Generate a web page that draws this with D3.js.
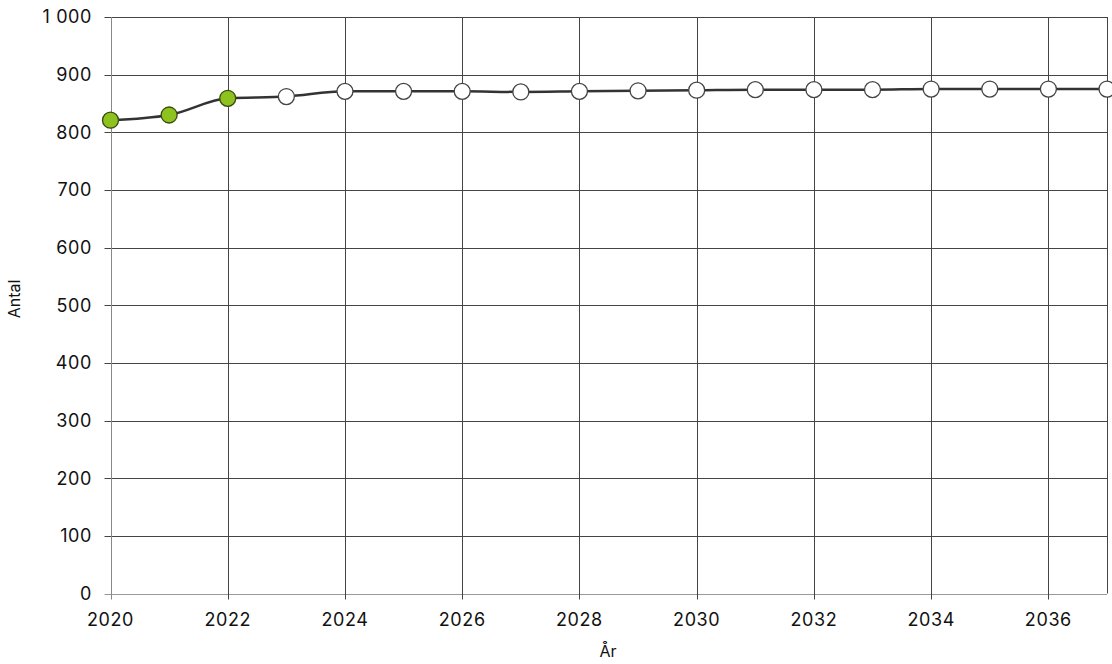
<!DOCTYPE html>
<html><head><meta charset="utf-8">
<script src="https://cdn.jsdelivr.net/npm/d3@7"></script>
<style>body{margin:0;background:#fff}svg{display:block}text{font-family:Inter,"Liberation Sans",Arial,sans-serif;fill:#111}</style>
</head><body><svg id="c" width="1112" height="664"></svg>
<script>
const years = [2020,2021,2022,2023,2024,2025,2026,2027,2028,2029,2030,2031,2032,2033,2034,2035,2036,2037];
const values = [821,830,859,862,871,871,871,870,871,872,873,874,874,874,875,875,875,875];
const observedCount = 3; // first three points are observed (green)
const yTicks = [0,100,200,300,400,500,600,700,800,900,1000];
const xTicks = [2020,2022,2024,2026,2028,2030,2032,2034,2036];
const xTitle = "År", yTitle = "Antal";

const svg = d3.select("#c");
const m = {l:110.5, r:1107, t:17, b:593.5};
const x = d3.scaleLinear().domain([2020,2037]).range([m.l,m.r]);
const y = d3.scaleLinear().domain([0,1000]).range([m.b,m.t]);
const fmt = v => v>=1000 ? d3.format(",")(v).replace(/,/g," ") : String(v);

const g = svg.append("g");
g.selectAll(".hg").data(yTicks).join("line")
 .attr("x1",m.l-6).attr("x2",m.r).attr("y1",d=>Math.round(y(d))+0.5).attr("y2",d=>Math.round(y(d))+0.5)
 .attr("stroke",d=>d===0?"#999":"#444").attr("stroke-width",1);
g.selectAll(".vg").data(xTicks).join("line")
 .attr("x1",d=>Math.round(x(d))+0.5).attr("x2",d=>Math.round(x(d))+0.5).attr("y1",m.t).attr("y2",m.b+6)
 .attr("stroke",d=>d===2020?"#888":"#444").attr("stroke-width",1);
g.append("line").attr("x1",Math.round(m.r)+0.5).attr("x2",Math.round(m.r)+0.5).attr("y1",m.t).attr("y2",m.b).attr("stroke","#444");

g.selectAll(".yl").data(yTicks).join("text")
 .attr("x",92).attr("y",d=>y(d)).attr("dy","0.36em").attr("text-anchor","end")
 .attr("font-size",18).attr("letter-spacing",0.6).text(fmt);
g.selectAll(".xl").data(xTicks).join("text")
 .attr("x",d=>x(d)).attr("y",626).attr("text-anchor","middle").attr("font-size",18).attr("letter-spacing",0.6).text(d=>d);
svg.append("text").attr("x",608).attr("y",657).attr("text-anchor","middle").attr("font-size",16).text(xTitle);
svg.append("text").attr("transform","translate(20,299) rotate(-90)").attr("text-anchor","middle").attr("font-size",16).text(yTitle);

const data = years.map((yr,i)=>({yr,v:values[i],obs:i<observedCount}));
svg.append("path").datum(data)
 .attr("d",d3.line().x(d=>x(d.yr)).y(d=>y(d.v)).curve(d3.curveMonotoneX))
 .attr("fill","none").attr("stroke","#333").attr("stroke-width",2.5);
svg.selectAll(".pt").data(data).join("circle")
 .attr("cx",d=>x(d.yr)).attr("cy",d=>y(d.v)).attr("r",8)
 .attr("fill",d=>d.obs?"#8dc21f":"#fff").attr("stroke",d=>d.obs?"#3a4a10":"#444").attr("stroke-width",1.3);
</script></body></html>
